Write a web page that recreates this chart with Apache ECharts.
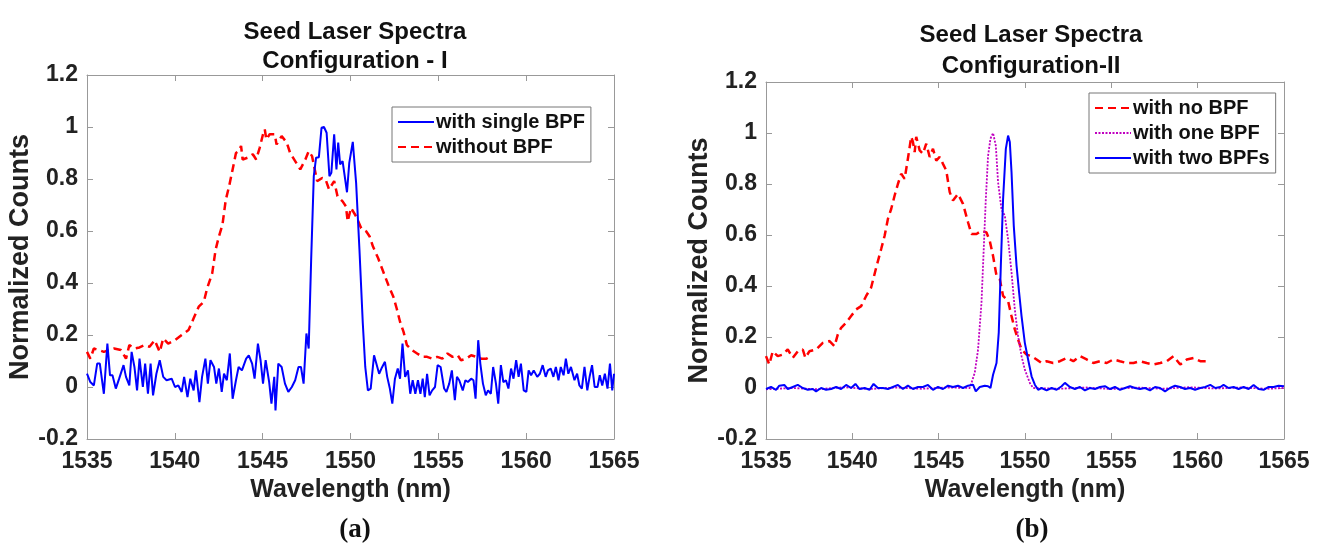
<!DOCTYPE html>
<html>
<head>
<meta charset="utf-8">
<script src="https://cdn.jsdelivr.net/npm/echarts@6/dist/echarts.min.js"></script>
<style>
  html, body { margin: 0; padding: 0; background: #fff; }
  #main { width: 1320px; height: 547px; }
</style>
</head>
<body>
<div id="main"></div>
<script>
// axis ticks shared by both panels
var xTicks = [1535, 1540, 1545, 1550, 1555, 1560, 1565];
var yTicks = [-0.2, 0, 0.2, 0.4, 0.6, 0.8, 1, 1.2];

// panel (a): [wavelength nm, normalized counts]
var singleBpf = [
  [1535.00,0.051],[1535.19,0.019],[1535.39,0.006],[1535.58,0.090],[1535.73,0.090],[1535.96,-0.026],
  [1536.16,0.167],[1536.31,0.045],[1536.45,0.045],[1536.64,-0.006],[1536.83,0.032],[1537.08,0.084],
  [1537.22,0.039],[1537.41,0.006],[1537.54,0.135],[1537.70,0.077],[1537.85,-0.013],[1537.99,0.109],
  [1538.18,0.000],[1538.31,0.090],[1538.47,-0.026],[1538.62,0.090],[1538.76,-0.032],[1538.95,0.051],
  [1539.14,0.103],[1539.34,0.039],[1539.53,0.026],[1539.82,0.032],[1540.01,0.000],[1540.20,0.006],
  [1540.39,-0.019],[1540.53,0.039],[1540.72,-0.039],[1540.88,0.032],[1541.07,-0.013],[1541.20,0.064],
  [1541.40,-0.058],[1541.55,0.039],[1541.74,0.109],[1541.88,0.013],[1542.03,0.103],[1542.23,0.077],
  [1542.36,0.013],[1542.51,0.071],[1542.67,-0.019],[1542.80,0.051],[1542.96,0.026],[1543.13,0.129],
  [1543.29,-0.045],[1543.48,0.026],[1543.63,0.077],[1543.82,0.064],[1544.06,0.109],[1544.21,0.122],
  [1544.40,0.090],[1544.54,0.032],[1544.73,0.167],[1544.88,0.103],[1545.02,0.013],[1545.17,0.103],
  [1545.37,0.019],[1545.50,-0.064],[1545.66,0.039],[1545.73,-0.090],[1545.89,0.090],[1546.08,0.077],
  [1546.27,0.013],[1546.46,-0.019],[1546.66,0.000],[1546.85,0.026],[1547.04,0.077],[1547.18,0.077],
  [1547.33,0.013],[1547.49,0.206],[1547.62,0.148],[1547.76,0.489],[1547.91,0.811],[1548.04,0.882],
  [1548.20,0.884],[1548.35,0.997],[1548.49,1.000],[1548.64,0.978],[1548.80,0.811],[1548.91,0.824],
  [1549.07,0.972],[1549.20,0.837],[1549.30,0.940],[1549.41,0.856],[1549.55,0.869],[1549.64,0.862],
  [1549.80,0.749],[1549.93,0.862],[1550.13,0.943],[1550.32,0.785],[1550.51,0.528],[1550.70,0.245],
  [1550.84,0.077],[1550.99,-0.013],[1551.15,-0.006],[1551.34,0.122],[1551.47,0.090],[1551.63,0.051],
  [1551.76,0.071],[1551.96,0.097],[1552.09,0.039],[1552.24,-0.006],[1552.38,-0.064],[1552.53,0.032],
  [1552.69,0.071],[1552.82,0.032],[1552.96,0.167],[1553.11,0.039],[1553.27,0.064],[1553.40,-0.026],
  [1553.54,0.026],[1553.69,-0.026],[1553.84,0.026],[1553.98,-0.026],[1554.11,0.032],[1554.23,-0.039],
  [1554.36,0.051],[1554.50,-0.032],[1554.65,-0.013],[1554.81,0.000],[1554.96,0.084],[1555.13,0.077],
  [1555.33,-0.006],[1555.46,-0.019],[1555.62,0.013],[1555.77,0.064],[1555.94,-0.051],[1556.06,0.039],
  [1556.19,0.026],[1556.39,-0.013],[1556.54,0.026],[1556.68,0.019],[1556.87,0.032],[1557.00,0.026],
  [1557.12,-0.045],[1557.27,0.180],[1557.39,0.090],[1557.54,0.013],[1557.70,-0.032],[1557.83,-0.013],
  [1557.99,-0.026],[1558.12,0.077],[1558.28,0.013],[1558.41,-0.064],[1558.56,0.084],[1558.70,0.019],
  [1558.85,0.026],[1558.99,-0.006],[1559.14,0.071],[1559.28,0.032],[1559.43,0.103],[1559.57,0.039],
  [1559.70,0.090],[1559.86,-0.013],[1560.01,-0.019],[1560.14,0.064],[1560.28,0.045],[1560.43,0.064],
  [1560.63,0.039],[1560.78,0.051],[1560.94,0.084],[1561.11,0.039],[1561.24,0.064],[1561.40,0.071],
  [1561.55,0.039],[1561.69,0.077],[1561.84,0.026],[1561.97,0.077],[1562.13,0.045],[1562.26,0.109],
  [1562.40,0.051],[1562.55,0.077],[1562.75,0.026],[1562.90,0.051],[1563.03,0.006],[1563.17,-0.006],
  [1563.32,0.077],[1563.48,-0.013],[1563.61,0.039],[1563.75,0.084],[1563.90,0.000],[1564.06,0.000],
  [1564.19,0.045],[1564.33,0.006],[1564.48,0.051],[1564.63,-0.006],[1564.77,0.090],[1564.90,-0.013],
  [1565.00,0.051]
];
var withoutBpf = [
  [1535.00,0.135],[1535.19,0.109],[1535.39,0.148],[1535.67,0.142],[1535.96,0.135],[1536.25,0.142],
  [1536.54,0.148],[1536.93,0.142],[1537.22,0.109],[1537.41,0.161],[1537.70,0.148],[1537.99,0.152],
  [1538.28,0.161],[1538.56,0.155],[1538.85,0.180],[1539.14,0.135],[1539.34,0.187],[1539.62,0.167],
  [1540.01,0.180],[1540.39,0.200],[1540.78,0.219],[1541.07,0.264],[1541.36,0.309],[1541.65,0.328],
  [1541.84,0.380],[1542.13,0.438],[1542.32,0.528],[1542.51,0.579],[1542.71,0.624],[1542.90,0.720],
  [1543.09,0.772],[1543.29,0.837],[1543.48,0.900],[1543.63,0.907],[1543.77,0.927],[1543.86,0.875],
  [1544.15,0.882],[1544.44,0.895],[1544.63,0.875],[1544.83,0.920],[1545.02,0.972],[1545.12,0.991],
  [1545.21,0.952],[1545.40,0.972],[1545.69,0.972],[1545.79,0.933],[1546.08,0.965],[1546.37,0.940],
  [1546.56,0.901],[1546.85,0.869],[1547.14,0.837],[1547.43,0.875],[1547.62,0.907],[1547.81,0.888],
  [1548.10,0.792],[1548.39,0.804],[1548.58,0.798],[1548.78,0.760],[1549.07,0.792],[1549.26,0.734],
  [1549.55,0.714],[1549.74,0.695],[1549.84,0.637],[1550.03,0.689],[1550.32,0.656],[1550.61,0.611],
  [1550.90,0.598],[1551.09,0.579],[1551.28,0.540],[1551.57,0.496],[1551.86,0.444],[1552.15,0.393],
  [1552.44,0.347],[1552.63,0.302],[1552.82,0.251],[1553.02,0.212],[1553.21,0.161],[1553.50,0.142],
  [1553.79,0.129],[1554.08,0.116],[1554.36,0.116],[1554.65,0.109],[1554.94,0.116],[1555.23,0.109],
  [1555.52,0.129],[1555.81,0.116],[1556.10,0.122],[1556.29,0.103],[1556.58,0.109],[1556.87,0.122],
  [1557.16,0.116],[1557.45,0.109],[1557.74,0.109],[1557.93,0.116]
];

// panel (b)
var noBpf = [
  [1535.00,0.125],[1535.19,0.092],[1535.39,0.144],[1535.68,0.125],[1535.97,0.131],[1536.26,0.151],
  [1536.55,0.118],[1536.84,0.144],[1537.13,0.151],[1537.28,0.118],[1537.51,0.144],[1537.90,0.151],
  [1538.29,0.177],[1538.68,0.184],[1538.97,0.164],[1539.16,0.210],[1539.35,0.236],[1539.64,0.256],
  [1539.93,0.282],[1540.22,0.308],[1540.51,0.321],[1540.80,0.361],[1541.09,0.394],[1541.38,0.472],
  [1541.67,0.545],[1541.87,0.597],[1542.06,0.663],[1542.25,0.702],[1542.45,0.755],[1542.64,0.800],
  [1542.83,0.840],[1543.03,0.820],[1543.22,0.900],[1543.41,0.985],[1543.51,0.965],[1543.61,0.925],
  [1543.70,0.985],[1543.90,0.932],[1544.09,0.919],[1544.28,0.958],[1544.48,0.906],[1544.67,0.938],
  [1544.86,0.892],[1545.06,0.906],[1545.25,0.879],[1545.44,0.853],[1545.64,0.768],[1545.83,0.735],
  [1546.12,0.761],[1546.41,0.722],[1546.70,0.650],[1546.90,0.604],[1547.19,0.604],[1547.48,0.617],
  [1547.77,0.610],[1547.96,0.577],[1548.15,0.518],[1548.35,0.440],[1548.54,0.427],[1548.73,0.361],
  [1549.02,0.341],[1549.22,0.282],[1549.41,0.230],[1549.60,0.190],[1549.80,0.151],[1550.09,0.131],
  [1550.38,0.125],[1550.67,0.112],[1550.96,0.098],[1551.25,0.105],[1551.63,0.098],[1552.02,0.105],
  [1552.41,0.118],[1552.80,0.105],[1553.18,0.125],[1553.57,0.112],[1553.96,0.098],[1554.34,0.105],
  [1554.73,0.098],[1555.12,0.112],[1555.50,0.105],[1555.89,0.098],[1556.28,0.098],[1556.66,0.105],
  [1557.05,0.098],[1557.44,0.092],[1557.83,0.098],[1558.21,0.105],[1558.60,0.125],[1558.99,0.092],
  [1559.37,0.112],[1559.76,0.118],[1560.15,0.105],[1560.63,0.105]
];
var oneBpf = [
  [1535.00,-0.005],[1536.50,0.000],[1538.00,-0.005],[1539.50,0.003],[1541.00,-0.004],[1542.50,0.002],
  [1544.00,-0.003],[1545.50,0.002],[1546.80,0.000],[1546.90,0.020],[1547.09,0.060],[1547.28,0.150],
  [1547.48,0.335],[1547.61,0.545],[1547.73,0.740],[1547.86,0.910],[1548.00,0.978],[1548.15,1.000],
  [1548.31,0.950],[1548.44,0.807],[1548.64,0.700],[1548.83,0.676],[1549.02,0.584],[1549.22,0.453],
  [1549.41,0.308],[1549.60,0.203],[1549.80,0.125],[1549.99,0.072],[1550.28,0.020],[1550.47,0.000],
  [1552.00,-0.003],[1553.50,0.002],[1555.00,-0.004],[1556.50,0.002],[1558.00,-0.003],[1559.50,0.003],
  [1561.00,-0.002],[1562.50,0.002],[1564.00,-0.003],[1565.00,0.000]
];
var twoBpfs = [
  [1535.00,-0.004],[1535.29,0.004],[1535.58,-0.007],[1535.77,0.009],[1536.06,0.012],[1536.26,-0.004],
  [1536.55,0.004],[1536.84,0.012],[1537.13,0.000],[1537.42,-0.007],[1537.71,-0.004],[1537.90,-0.013],
  [1538.19,0.000],[1538.48,-0.007],[1538.77,-0.004],[1539.06,0.004],[1539.35,-0.004],[1539.64,0.012],
  [1539.93,0.000],[1540.18,0.016],[1540.42,-0.004],[1540.71,0.000],[1541.00,-0.007],[1541.23,0.016],
  [1541.48,0.000],[1541.77,0.000],[1542.06,-0.004],[1542.35,0.004],[1542.64,0.012],[1542.93,-0.004],
  [1543.22,0.009],[1543.51,-0.004],[1543.80,0.004],[1544.09,0.004],[1544.38,0.012],[1544.67,-0.007],
  [1544.96,0.004],[1545.25,-0.004],[1545.54,0.009],[1545.83,0.004],[1546.12,0.009],[1546.41,0.000],
  [1546.70,0.009],[1546.99,0.013],[1547.15,-0.013],[1547.38,0.004],[1547.67,0.009],[1547.86,0.007],
  [1548.00,0.000],[1548.15,0.052],[1548.35,0.098],[1548.48,0.217],[1548.60,0.480],[1548.73,0.740],
  [1548.89,0.938],[1549.02,0.990],[1549.12,0.965],[1549.22,0.846],[1549.35,0.636],[1549.51,0.480],
  [1549.66,0.374],[1549.80,0.282],[1549.99,0.177],[1550.18,0.112],[1550.38,0.046],[1550.57,0.013],
  [1550.76,-0.007],[1550.96,0.000],[1551.25,-0.009],[1551.54,0.000],[1551.83,-0.007],[1552.12,0.007],
  [1552.31,0.020],[1552.60,0.004],[1552.89,-0.004],[1553.18,0.004],[1553.47,-0.009],[1553.76,0.000],
  [1554.05,-0.004],[1554.34,0.004],[1554.63,0.007],[1554.92,-0.004],[1555.21,0.004],[1555.50,-0.007],
  [1555.79,0.000],[1556.08,0.007],[1556.37,0.000],[1556.66,-0.004],[1556.95,0.000],[1557.24,-0.009],
  [1557.53,0.004],[1557.82,0.000],[1558.11,-0.013],[1558.40,0.000],[1558.69,0.009],[1558.98,0.004],
  [1559.27,-0.004],[1559.56,0.000],[1559.85,-0.007],[1560.15,0.000],[1560.44,0.004],[1560.73,0.012],
  [1561.02,0.000],[1561.31,0.004],[1561.50,0.012],[1561.79,0.000],[1562.08,0.004],[1562.37,-0.004],
  [1562.66,0.004],[1562.95,-0.004],[1563.24,0.012],[1563.53,-0.004],[1563.82,-0.007],[1564.11,0.004],
  [1564.40,0.004],[1564.69,0.009],[1565.00,0.007]
];

var FONT = '"Liberation Sans", Arial, sans-serif';
var myChart = echarts.init(document.getElementById('main'));

function fmtY(v) { return String(+v.toFixed(1)); }
function fmtX(v) { return String(Math.round(v)); }

function xAxes(gi) {
  return [
    {
      type: 'value', gridIndex: gi, min: xTicks[0], max: xTicks[xTicks.length - 1], interval: 5,
      name: 'Wavelength (nm)', nameLocation: 'middle', nameGap: 37,
      nameTextStyle: { fontFamily: FONT, fontWeight: 'bold', fontSize: 25, color: '#222' },
      axisLine: { onZero: false, lineStyle: { color: '#999', width: 1 } },
      axisTick: { inside: true, length: 6, lineStyle: { color: '#999' } },
      axisLabel: { margin: 11, formatter: fmtX, fontFamily: FONT, fontWeight: 'bold', fontSize: 23, color: '#222' },
      splitLine: { show: false }
    },
    {
      type: 'value', gridIndex: gi, position: 'top', min: xTicks[0], max: xTicks[xTicks.length - 1], interval: 5,
      axisLine: { onZero: false, lineStyle: { color: '#999', width: 1 } },
      axisTick: { inside: true, length: 6, lineStyle: { color: '#999' } },
      axisLabel: { show: false }, splitLine: { show: false }
    }
  ];
}

function yAxes(gi, gap) {
  return [
    {
      type: 'value', gridIndex: gi, min: yTicks[0], max: yTicks[yTicks.length - 1], interval: 0.2,
      name: 'Normalized Counts', nameLocation: 'middle', nameGap: gap,
      nameTextStyle: { fontFamily: FONT, fontWeight: 'bold', fontSize: 27, color: '#222' },
      axisLine: { onZero: false, lineStyle: { color: '#999', width: 1 } },
      axisTick: { inside: true, length: 6, lineStyle: { color: '#999' } },
      axisLabel: { margin: 9, formatter: fmtY, fontFamily: FONT, fontWeight: 'bold', fontSize: 23, color: '#222' },
      splitLine: { show: false }
    },
    {
      type: 'value', gridIndex: gi, position: 'right', min: yTicks[0], max: yTicks[yTicks.length - 1], interval: 0.2,
      axisLine: { onZero: false, lineStyle: { color: '#999', width: 1 } },
      axisTick: { inside: true, length: 6, lineStyle: { color: '#999' } },
      axisLabel: { show: false }, splitLine: { show: false }
    }
  ];
}

function legendBox(left, top, names) {
  return {
    data: names, orient: 'vertical', left: left, top: top,
    itemWidth: 36, itemHeight: 12, itemGap: 5,
    padding: [5, 6, 5, 5],
    borderColor: '#777', borderWidth: 1, backgroundColor: '#fff',
    itemStyle: { opacity: 0 },
    textStyle: { fontFamily: FONT, fontWeight: 'bold', fontSize: 20, color: '#111', padding: [0, 0, 0, -3] }
  };
}

var titleStyle = { fontFamily: FONT, fontWeight: 'bold', fontSize: 24, color: '#111', lineHeight: 29 };
var labelStyle = { fontFamily: '"Liberation Serif", "Times New Roman", serif', fontWeight: 'bold', fontSize: 27, color: '#111' };

option = {
  animation: false,
  backgroundColor: '#fff',
  title: [
    { text: 'Seed Laser Spectra\nConfiguration - I', left: 350, top: 13, textAlign: 'center', textStyle: titleStyle },
    { text: 'Seed Laser Spectra\nConfiguration-II', left: 1026, top: 15, textAlign: 'center',
      textStyle: Object.assign({}, titleStyle, { lineHeight: 31 }) },
    { text: '(a)', left: 350, top: 512, textAlign: 'center', textStyle: labelStyle },
    { text: '(b)', left: 1027, top: 512, textAlign: 'center', textStyle: labelStyle }
  ],
  legend: [
    legendBox(392, 107, ['with single BPF', 'without BPF']),
    legendBox(1089, 93, ['with no BPF', 'with one BPF', 'with two BPFs'])
  ],
  grid: [
    { left: 87, top: 75, width: 527, height: 364 },
    { left: 766, top: 82, width: 518, height: 357 }
  ],
  xAxis: xAxes(0).concat(xAxes(1)),
  yAxis: yAxes(0, 50).concat(yAxes(1, 48)),
  series: [
    { name: 'with single BPF', type: 'line', xAxisIndex: 0, yAxisIndex: 0, data: singleBpf,
      symbol: 'none', z: 3, lineStyle: { color: '#0000ff', width: 2 }, itemStyle: { color: '#0000ff' } },
    { name: 'without BPF', type: 'line', xAxisIndex: 0, yAxisIndex: 0, data: withoutBpf,
      symbol: 'none', z: 2, lineStyle: { color: '#ff0000', width: 2.5, type: [8, 5] }, itemStyle: { color: '#ff0000' } },
    { name: 'with no BPF', type: 'line', xAxisIndex: 2, yAxisIndex: 2, data: noBpf,
      symbol: 'none', z: 2, lineStyle: { color: '#ff0000', width: 2.5, type: [8, 5] }, itemStyle: { color: '#ff0000' } },
    { name: 'with one BPF', type: 'line', xAxisIndex: 2, yAxisIndex: 2, data: oneBpf,
      symbol: 'none', z: 3, lineStyle: { color: '#c000c0', width: 1.8, type: [2, 1.5] }, itemStyle: { color: '#c000c0' } },
    { name: 'with two BPFs', type: 'line', xAxisIndex: 2, yAxisIndex: 2, data: twoBpfs,
      symbol: 'none', z: 4, lineStyle: { color: '#0000ff', width: 2 }, itemStyle: { color: '#0000ff' } }
  ]
};

myChart.setOption(option);
</script>
</body>
</html>
